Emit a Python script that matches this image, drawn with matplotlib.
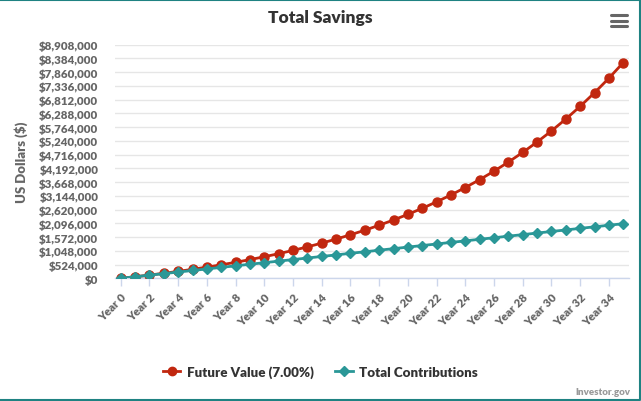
import numpy as np
import matplotlib
matplotlib.use("Agg")
import matplotlib.pyplot as plt
from matplotlib.ticker import FuncFormatter, MultipleLocator
from matplotlib.lines import Line2D

# Datos
years = list(range(36))
year_labels = [f"Year {y}" for y in years]
future_value = [0, 59500, 123000, 191000, 264000, 342000, 426000, 515000, 610000,
                713000, 822000, 939000, 1064000, 1198000, 1342000, 1495000, 1659000,
                1835000, 2023000, 2224000, 2439000, 2669000, 2916000, 3179000, 3462000,
                3763000, 4086000, 4432000, 4802000, 5197000, 5620000, 6073000, 6558000,
                7077000, 7631000, 8225000]
contributions = [0, 59500, 119000, 178500, 238000, 297500, 357000, 416500, 476000,
                 535500, 595000, 654500, 714000, 773500, 833000, 892500, 952000,
                 1011500, 1071000, 1130500, 1190000, 1249500, 1309000, 1368500, 1428000,
                 1487500, 1547000, 1606500, 1666000, 1725500, 1785000, 1844500, 1904000,
                 1963500, 2023000, 2082500]
y_max = 8908000
y_step = 524000

RED = "#c1270f"
TEAL = "#2a9797"
BORDER = "#1f8282"

plt.rcParams['font.family'] = ['Lato', 'DejaVu Sans']

fig = plt.figure(figsize=(6.41, 4.02), dpi=100)
ax = fig.add_axes([115 / 641, 1 - 279.3 / 402, (629 - 115) / 641, (279.3 - 45.7) / 402])

ax.plot(years, future_value, color=RED, lw=2, marker='o', ms=6.5,
        markerfacecolor=RED, markeredgecolor=RED, zorder=3, label="Future Value (7.00%)")
ax.plot(years, contributions, color=TEAL, lw=2, marker='D', ms=5,
        markerfacecolor=TEAL, markeredgecolor=TEAL, zorder=4, label="Total Contributions")

ax.set_xlim(-0.4, 35.4)
ax.set_ylim(0, y_max)
ax.yaxis.set_major_locator(MultipleLocator(y_step))
ax.yaxis.set_major_formatter(FuncFormatter(lambda v, p: f"${v:,.0f}"))
ax.grid(axis='y', color='#e6e6e6', lw=1)
ax.set_axisbelow(True)

ax.set_xticks(years[::2])
ax.set_xticklabels(year_labels[::2], rotation=45, ha='right', va='top',
                   rotation_mode='anchor')

for s in ['top', 'right', 'left']:
    ax.spines[s].set_visible(False)
ax.spines['bottom'].set_color('#ccd6eb')
ax.spines['bottom'].set_linewidth(1)

ax.tick_params(axis='y', length=0, pad=12, labelsize=8.3, labelcolor='#666666')
ax.tick_params(axis='x', length=6, width=1, color='#ccd6eb', pad=3,
               labelsize=8.3, labelcolor='#666666')
for lab in ax.get_yticklabels() + ax.get_xticklabels():
    lab.set_fontweight('heavy')

ax.set_ylabel("US Dollars ($)", fontsize=9.5, color='#666666', fontweight='heavy')
ax.yaxis.set_label_coords((28 - 115) / 514, 0.5)

fig.text(0.5, 1 - 18 / 402, "Total Savings", ha='center', va='center',
         fontsize=12.5, fontweight='heavy', color='#333333')

handles = [Line2D([], [], color=RED, lw=2, marker='o', ms=6),
           Line2D([], [], color=TEAL, lw=2, marker='D', ms=5)]
fig.legend(handles, ["Future Value (7.00%)", "Total Contributions"], loc='center',
           bbox_to_anchor=(0.5, 1 - 373 / 402), ncol=2, frameon=False,
           prop={'size': 9.6, 'weight': 'heavy'}, labelcolor='#333333',
           handlelength=1.3, handletextpad=0.5, columnspacing=1.6)

fig.text(630 / 641, 1 - 393 / 402, "Investor.gov", ha='right', va='center',
         fontsize=7, color='#999999', fontweight='heavy')

# icono de menu
for yy in [16.3, 22, 27]:
    fig.add_artist(Line2D([611 / 641, 627 / 641], [1 - yy / 402, 1 - yy / 402],
                          color='#666666', lw=2.2, solid_capstyle='round'))

# borde
fig.add_artist(Line2D([0, 639.5 / 641, 639.5 / 641, 0],
                      [1 - 0.8 / 402, 1 - 0.8 / 402, 1 - 401.2 / 402, 1 - 401.2 / 402],
                      color=BORDER, lw=1.5))

fig.savefig("out.png", dpi=100)
